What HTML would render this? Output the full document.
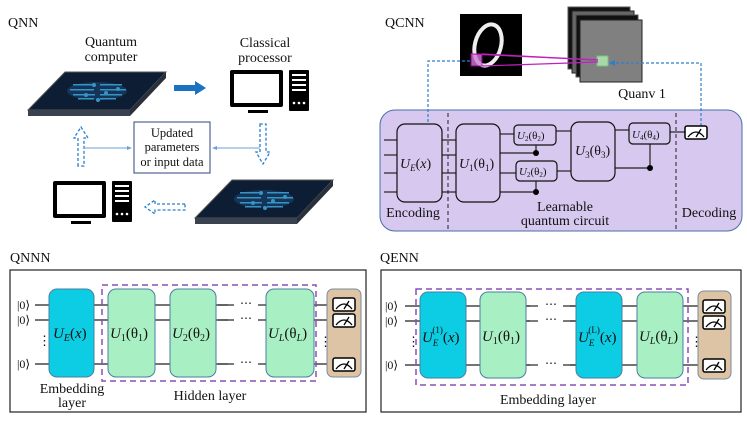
<!DOCTYPE html>
<html><head><meta charset="utf-8"><style>
body{margin:0;background:#fff}
svg text{font-family:"Liberation Serif",serif;fill:#111}
</style></head><body>
<svg width="747" height="421" viewBox="0 0 747 421" xmlns="http://www.w3.org/2000/svg">
<defs>
<g id="chip">
<polygon points="0,38 37,0 138,0 102,38" fill="#0d1d33" stroke="#555" stroke-width="1"/>
<polygon points="0,38 102,38 102,44 0,44" fill="#3a4250"/>
<polygon points="102,38 138,0 138,6 102,44" fill="#2a303b"/>
<g fill="#3fa9e0" opacity="0.85">
<ellipse cx="69" cy="19" rx="30" ry="9" fill="#1d4d7a" opacity="0.6"/>
<rect x="45" y="12" width="22" height="1.5"/><rect x="72" y="12" width="22" height="1.5"/>
<rect x="42" y="17" width="24" height="1.5"/><rect x="72" y="17" width="26" height="1.5"/>
<rect x="45" y="22" width="22" height="1.5"/><rect x="72" y="22" width="22" height="1.5"/>
<rect x="50" y="26" width="16" height="1.5"/><rect x="72" y="26" width="16" height="1.5"/>
<circle cx="66" cy="13" r="2"/><circle cx="78" cy="21" r="2"/><circle cx="58" cy="23" r="2"/><circle cx="90" cy="17" r="2"/><circle cx="70" cy="28" r="2"/>
</g>
</g>
<g id="pc">
<rect x="0" y="0" width="53" height="37" fill="#000" rx="2"/>
<rect x="4" y="4" width="45" height="29" fill="#fff"/>
<rect x="18" y="40" width="20" height="3" fill="#000"/>
<rect x="59" y="0" width="20" height="41" fill="#000" rx="1"/>
<rect x="62" y="4" width="14" height="2" fill="#fff"/><rect x="62" y="9" width="14" height="2" fill="#fff"/><rect x="62" y="14" width="14" height="2" fill="#fff"/><rect x="62" y="19" width="14" height="2" fill="#fff"/>
<circle cx="64" cy="33" r="1.3" fill="#fff"/><circle cx="69" cy="33" r="1.3" fill="#fff"/><circle cx="74" cy="33" r="1.3" fill="#fff"/>
</g>
<g id="meter">
<rect x="0" y="0" width="22" height="13" rx="2" fill="#fff" stroke="#000" stroke-width="1.5"/>
<path d="M3,11 Q11,1 19,11" fill="none" stroke="#000" stroke-width="1.3"/>
<line x1="11" y1="11" x2="16" y2="3" stroke="#000" stroke-width="1.3"/>
</g>
</defs>

<!-- QNN -->
<text x="8" y="27" font-size="14">QNN</text>
<text x="111" y="46" font-size="14" text-anchor="middle">Quantum</text>
<text x="111" y="61" font-size="14" text-anchor="middle">computer</text>
<text x="265" y="47" font-size="14" text-anchor="middle">Classical</text>
<text x="265" y="62" font-size="14" text-anchor="middle">processor</text>
<use href="#chip" x="28" y="72"/>
<use href="#chip" x="195" y="180"/>
<use href="#pc" x="230" y="70"/>
<use href="#pc" x="53" y="181"/>
<polygon points="174,85 195,85 195,81 206,88 195,95 195,91 174,91" fill="#1a72c0"/>
<rect x="134" y="122" width="76" height="51" fill="#fff" stroke="#33447a" stroke-width="1"/>
<text x="172" y="137" font-size="12.5" text-anchor="middle">Updated</text>
<text x="172" y="151" font-size="12.5" text-anchor="middle">parameters</text>
<text x="172" y="166" font-size="12.5" text-anchor="middle">or input data</text>
<g fill="none" stroke="#2b7fd0" stroke-width="1.3" stroke-dasharray="3,2">
<path d="M78,166 L78,138 L74,138 L81,127 L88,138 L84,138 L84,166 Z"/>
<path d="M260,124 L260,152 L256,152 L263,164 L270,152 L266,152 L266,124 Z"/>
<path d="M185,204 L155,204 L155,200 L145,207 L155,214 L155,210 L185,210 Z"/>
</g>
<line x1="84" y1="148" x2="130" y2="148" stroke="#6aa3d8"/>
<polygon points="132,148 127,146 127,150" fill="#6aa3d8"/>
<line x1="260" y1="148" x2="214" y2="148" stroke="#6aa3d8"/>
<polygon points="212,148 217,146 217,150" fill="#6aa3d8"/>

<!-- QCNN -->
<text x="385" y="27" font-size="14">QCNN</text>
<rect x="460" y="14" width="62" height="62" fill="#000"/>
<ellipse cx="488" cy="45" rx="13" ry="21" fill="none" stroke="#eee" stroke-width="4" transform="rotate(15 488 45)"/>
<rect x="568" y="7" width="62" height="62" fill="#111" stroke="#555"/>
<rect x="572" y="11" width="62" height="62" fill="#666" stroke="#222"/>
<rect x="576" y="15" width="62" height="62" fill="#111" stroke="#555"/>
<rect x="580" y="20" width="62" height="62" fill="#808080" stroke="#222"/>
<rect x="597" y="56" width="11" height="10" fill="#a6d8a8" stroke="#7bc07f"/>
<rect x="471" y="54" width="11" height="12" fill="#d27ad6" opacity="0.8" stroke="#a0a"/>
<g stroke="#c21fc2" stroke-width="1.2"><line x1="482" y1="54" x2="598" y2="60"/><line x1="482" y1="66" x2="598" y2="62"/><line x1="471" y1="54" x2="598" y2="60"/></g>
<text x="642" y="98" font-size="14" text-anchor="middle">Quanv 1</text>
<rect x="380" y="110" width="362" height="121" rx="15" fill="#d6c8ee" stroke="#4a6fa5" stroke-width="1"/>
<g fill="none" stroke="#2b7fd0" stroke-width="1.2" stroke-dasharray="3,2">
<path d="M470,61 L428,61 L428,150"/>
<path d="M701,126 L701,63 L612,63"/>
</g>
<polygon points="428,154 425,147 431,147" fill="#2b7fd0"/>
<polygon points="609,63 615,60 615,66" fill="#2b7fd0"/>
<g stroke="#222" stroke-width="1.2">
<line x1="384" y1="140" x2="397" y2="140"/><line x1="384" y1="155" x2="397" y2="155"/><line x1="384" y1="173" x2="397" y2="173"/><line x1="384" y1="192" x2="397" y2="192"/>
<line x1="442" y1="140" x2="456" y2="140"/><line x1="442" y1="155" x2="456" y2="155"/><line x1="442" y1="173" x2="456" y2="173"/><line x1="442" y1="192" x2="456" y2="192"/>
<line x1="500" y1="134" x2="514" y2="134"/><line x1="500" y1="153" x2="536" y2="153"/><line x1="500" y1="173" x2="516" y2="173"/><line x1="500" y1="192" x2="536" y2="192"/>
<line x1="556" y1="131" x2="571" y2="131"/><line x1="557" y1="171" x2="571" y2="171"/>
<line x1="615" y1="130" x2="629" y2="130"/><line x1="615" y1="168" x2="650" y2="168"/>
<line x1="670" y1="132" x2="685" y2="132"/>
<line x1="536" y1="145" x2="536" y2="153"/><line x1="536" y1="181" x2="536" y2="192"/><line x1="650" y1="144" x2="650" y2="168"/>
</g>
<g fill="#000"><circle cx="536" cy="153" r="3"/><circle cx="536" cy="192" r="3"/><circle cx="650" cy="168" r="3"/></g>
<g fill="#d6c8ee" stroke="#111" stroke-width="1.2">
<rect x="397" y="124" width="45" height="78" rx="8"/>
<rect x="456" y="124" width="44" height="78" rx="8"/>
<rect x="514" y="125" width="42" height="20" rx="4"/>
<rect x="516" y="161" width="41" height="20" rx="4"/>
<rect x="571" y="122" width="44" height="59" rx="8"/>
<rect x="629" y="123" width="41" height="21" rx="4"/>
</g>
<use href="#meter" x="685" y="126"/>
<g stroke="#222" stroke-dasharray="4,3" stroke-width="1"><line x1="448" y1="113" x2="448" y2="230"/><line x1="676" y1="113" x2="676" y2="230"/></g>
<g font-family="Liberation Serif, serif" font-size="14" font-style="italic">
<text x="400" y="168">U<tspan font-size="9" dy="3">E</tspan><tspan dy="-3" font-style="normal">(</tspan>x<tspan font-style="normal">)</tspan></text>
<text x="459" y="168">U<tspan font-size="9" dy="3" font-style="normal">1</tspan><tspan dy="-3" font-style="normal">(θ</tspan><tspan font-size="9" dy="3" font-style="normal">1</tspan><tspan dy="-3" font-style="normal">)</tspan></text>
<text x="575" y="155">U<tspan font-size="9" dy="3" font-style="normal">3</tspan><tspan dy="-3" font-style="normal">(θ</tspan><tspan font-size="9" dy="3" font-style="normal">3</tspan><tspan dy="-3" font-style="normal">)</tspan></text>
</g>
<g font-size="11" font-style="italic">
<text x="517" y="139">U<tspan font-size="7" dy="2" font-style="normal">2</tspan><tspan dy="-2" font-style="normal">(θ</tspan><tspan font-size="7" dy="2" font-style="normal">2</tspan><tspan dy="-2" font-style="normal">)</tspan></text>
<text x="519" y="175">U<tspan font-size="7" dy="2" font-style="normal">2</tspan><tspan dy="-2" font-style="normal">(θ</tspan><tspan font-size="7" dy="2" font-style="normal">2</tspan><tspan dy="-2" font-style="normal">)</tspan></text>
<text x="632" y="138">U<tspan font-size="7" dy="2" font-style="normal">4</tspan><tspan dy="-2" font-style="normal">(θ</tspan><tspan font-size="7" dy="2" font-style="normal">4</tspan><tspan dy="-2" font-style="normal">)</tspan></text>
</g>
<text x="413" y="217" font-size="14" text-anchor="middle">Encoding</text>
<text x="565" y="211" font-size="14" text-anchor="middle">Learnable</text>
<text x="565" y="225" font-size="14" text-anchor="middle">quantum circuit</text>
<text x="709" y="217" font-size="14" text-anchor="middle">Decoding</text>

<!-- QNNN -->
<text x="10" y="262" font-size="14">QNNN</text>
<rect x="10" y="270" width="356" height="142" fill="#fff" stroke="#222" stroke-width="1.2"/>
<g stroke="#222" stroke-width="1.2">
<line x1="35" y1="305" x2="327" y2="305"/><line x1="35" y1="320" x2="327" y2="320"/><line x1="35" y1="364" x2="327" y2="364"/>
</g>
<rect x="228" y="298" width="37" height="72" fill="#fff"/>
<text x="246" y="307" font-size="12" text-anchor="middle">⋯</text>
<text x="246" y="322" font-size="12" text-anchor="middle">⋯</text>
<text x="246" y="366" font-size="12" text-anchor="middle">⋯</text>
<line x1="218" y1="305" x2="234" y2="305" stroke="#222" stroke-width="1.2"/><line x1="258" y1="305" x2="268" y2="305" stroke="#222" stroke-width="1.2"/>
<line x1="218" y1="320" x2="234" y2="320" stroke="#222" stroke-width="1.2"/><line x1="258" y1="320" x2="268" y2="320" stroke="#222" stroke-width="1.2"/>
<line x1="218" y1="364" x2="234" y2="364" stroke="#222" stroke-width="1.2"/><line x1="258" y1="364" x2="268" y2="364" stroke="#222" stroke-width="1.2"/>
<text x="17" y="309" font-size="12">|0⟩</text><text x="17" y="324" font-size="12">|0⟩</text><text x="17" y="368" font-size="12">|0⟩</text>
<text x="38" y="345" font-size="13">⋮</text>
<rect x="49" y="289" width="45" height="88" rx="8" fill="#0ccde3" stroke="#4a7fa0"/>
<rect x="102" y="285" width="214" height="96" fill="none" stroke="#8a4fb8" stroke-width="1.5" stroke-dasharray="6,4"/>
<g fill="#a8efc4" stroke="#4a7fa0"><rect x="108" y="289" width="47" height="88" rx="8"/><rect x="170" y="289" width="46" height="88" rx="8"/><rect x="266" y="289" width="48" height="88" rx="8"/></g>
<rect x="327" y="289" width="34" height="88" rx="6" fill="#dcc4a4" stroke="#7a8aa0"/>
<use href="#meter" x="333" y="298"/><use href="#meter" x="333" y="314"/><use href="#meter" x="333" y="358"/>
<text x="319" y="346" font-size="13">⋮</text>
<g font-size="15" font-style="italic">
<text x="53" y="338">U<tspan font-size="10" dy="3">E</tspan><tspan dy="-3" font-style="normal">(</tspan>x<tspan font-style="normal">)</tspan></text>
<text x="110" y="338">U<tspan font-size="10" dy="3" font-style="normal">1</tspan><tspan dy="-3" font-style="normal">(θ</tspan><tspan font-size="10" dy="3" font-style="normal">1</tspan><tspan dy="-3" font-style="normal">)</tspan></text>
<text x="172" y="338">U<tspan font-size="10" dy="3" font-style="normal">2</tspan><tspan dy="-3" font-style="normal">(θ</tspan><tspan font-size="10" dy="3" font-style="normal">2</tspan><tspan dy="-3" font-style="normal">)</tspan></text>
<text x="268" y="338">U<tspan font-size="10" dy="3">L</tspan><tspan dy="-3" font-style="normal">(θ</tspan><tspan font-size="10" dy="3">L</tspan><tspan dy="-3" font-style="normal">)</tspan></text>
</g>
<text x="72" y="393" font-size="14" text-anchor="middle">Embedding</text>
<text x="72" y="407" font-size="14" text-anchor="middle">layer</text>
<text x="210" y="400" font-size="14" text-anchor="middle">Hidden layer</text>

<!-- QENN -->
<text x="380" y="262" font-size="14">QENN</text>
<rect x="381" y="270" width="360" height="142" fill="#fff" stroke="#222" stroke-width="1.2"/>
<g stroke="#222" stroke-width="1.2">
<line x1="405" y1="306" x2="698" y2="306"/><line x1="405" y1="321" x2="698" y2="321"/><line x1="405" y1="365" x2="698" y2="365"/>
</g>
<rect x="530" y="299" width="40" height="72" fill="#fff"/>
<text x="551" y="308" font-size="12" text-anchor="middle">⋯</text>
<text x="551" y="323" font-size="12" text-anchor="middle">⋯</text>
<text x="551" y="367" font-size="12" text-anchor="middle">⋯</text>
<line x1="526" y1="306" x2="538" y2="306" stroke="#222" stroke-width="1.2"/><line x1="563" y1="306" x2="576" y2="306" stroke="#222" stroke-width="1.2"/>
<line x1="526" y1="321" x2="538" y2="321" stroke="#222" stroke-width="1.2"/><line x1="563" y1="321" x2="576" y2="321" stroke="#222" stroke-width="1.2"/>
<line x1="526" y1="365" x2="538" y2="365" stroke="#222" stroke-width="1.2"/><line x1="563" y1="365" x2="576" y2="365" stroke="#222" stroke-width="1.2"/>
<text x="385" y="310" font-size="12">|0⟩</text><text x="385" y="325" font-size="12">|0⟩</text><text x="385" y="369" font-size="12">|0⟩</text>
<text x="407" y="346" font-size="13">⋮</text>
<rect x="416" y="289" width="272" height="96" fill="none" stroke="#8a4fb8" stroke-width="1.5" stroke-dasharray="6,4"/>
<g fill="#0ccde3" stroke="#4a7fa0"><rect x="420" y="292" width="46" height="86" rx="8"/><rect x="576" y="292" width="46" height="86" rx="8"/></g>
<g fill="#a8efc4" stroke="#4a7fa0"><rect x="480" y="292" width="46" height="86" rx="8"/><rect x="637" y="292" width="46" height="86" rx="8"/></g>
<rect x="698" y="291" width="33" height="88" rx="6" fill="#dcc4a4" stroke="#7a8aa0"/>
<use href="#meter" x="703" y="300"/><use href="#meter" x="703" y="316"/><use href="#meter" x="703" y="359"/>
<text x="690" y="346" font-size="13">⋮</text>
<g font-size="15" font-style="italic">
<text x="422" y="342">U<tspan font-size="9" dy="4">E</tspan><tspan font-size="9" dx="-6" dy="-13" font-style="normal">(1)</tspan><tspan dy="9" font-style="normal">(</tspan>x<tspan font-style="normal">)</tspan></text>
<text x="482" y="341">U<tspan font-size="10" dy="3" font-style="normal">1</tspan><tspan dy="-3" font-style="normal">(θ</tspan><tspan font-size="10" dy="3" font-style="normal">1</tspan><tspan dy="-3" font-style="normal">)</tspan></text>
<text x="578" y="342">U<tspan font-size="9" dy="4">E</tspan><tspan font-size="9" dx="-6" dy="-13" font-style="normal">(L)</tspan><tspan dy="9" font-style="normal">(</tspan>x<tspan font-style="normal">)</tspan></text>
<text x="639" y="341">U<tspan font-size="10" dy="3">L</tspan><tspan dy="-3" font-style="normal">(θ</tspan><tspan font-size="10" dy="3">L</tspan><tspan dy="-3" font-style="normal">)</tspan></text>
</g>
<text x="548" y="404" font-size="14" text-anchor="middle">Embedding layer</text>
</svg>
</body></html>
